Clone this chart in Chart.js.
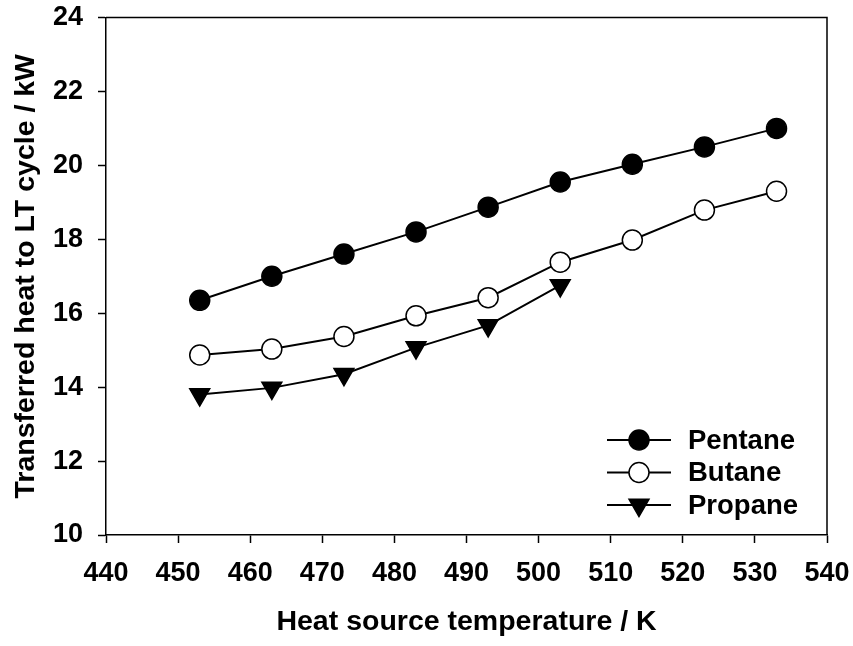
<!DOCTYPE html>
<html>
<head>
<meta charset="utf-8">
<script src="https://cdn.jsdelivr.net/npm/chart.js@4"></script>
<style>
  html, body { margin: 0; padding: 0; background: #ffffff; }
  #wrap { position: relative; width: 853px; height: 646px; }
</style>
</head>
<body>
<div id="wrap"><canvas id="c" width="853" height="646"></canvas></div>
<script>
// ---- data ----
const temperatures = [453, 463, 473, 483, 493, 503, 513, 523, 533];
const pentane = [16.35, 17.0, 17.6, 18.2, 18.87, 19.55, 20.03, 20.5, 21.0];
const butane = [14.87, 15.03, 15.37, 15.93, 16.42, 17.38, 17.98, 18.79, 19.3];
const propane = [13.8, 13.98, 14.35, 15.07, 15.67, 16.75];
const seriesNames = ['Pentane', 'Butane', 'Propane'];
const xTitle = 'Heat source temperature / K';
const yTitle = 'Transferred heat to LT cycle / kW';
const xRange = [440, 540, 10];
const yRange = [10, 24, 2];

const FONT = "'Liberation Sans', Arial, sans-serif";
const toPts = (vals) => vals.map((v, i) => ({ x: temperatures[i], y: v }));

const framePlugin = {
  id: 'frame',
  afterDatasetsDraw(chart) {
    const { ctx, chartArea: a } = chart;
    ctx.save();
    ctx.strokeStyle = '#000';
    ctx.lineWidth = 1.5;
    ctx.beginPath();
    ctx.moveTo(a.left, a.top);
    ctx.lineTo(a.right, a.top);
    ctx.lineTo(a.right, a.bottom);
    ctx.stroke();
    ctx.restore();
  }
};

function drawMarker(ctx, style, x, y, r, fill) {
  ctx.save();
  ctx.fillStyle = fill;
  ctx.strokeStyle = '#000';
  ctx.lineWidth = 1.5;
  ctx.beginPath();
  if (style === 'triangle') {
    for (let k = 0; k < 3; k++) {
      const ang = Math.PI + k * 2 * Math.PI / 3;
      const px = x + Math.sin(ang) * r;
      const py = y - Math.cos(ang) * r;
      if (k === 0) ctx.moveTo(px, py); else ctx.lineTo(px, py);
    }
    ctx.closePath();
  } else {
    ctx.arc(x, y, r, 0, Math.PI * 2);
  }
  ctx.fill();
  ctx.stroke();
  ctx.restore();
}

const legendPlugin = {
  id: 'insideLegend',
  afterDatasetsDraw(chart) {
    const { ctx, chartArea: a } = chart;
    const x0 = a.right - 220;
    const yStart = a.bottom - 95;
    const rowH = 32.5;
    chart.data.datasets.forEach((ds, i) => {
      const y = yStart + i * rowH;
      ctx.save();
      ctx.strokeStyle = '#000';
      ctx.lineWidth = 2;
      ctx.beginPath();
      ctx.moveTo(x0, y);
      ctx.lineTo(x0 + 64, y);
      ctx.stroke();
      ctx.restore();
      drawMarker(ctx, ds.pointStyle, x0 + 32, y, ds.pointStyle === 'triangle' ? 11.5 : 10, ds.pointBackgroundColor);
      ctx.save();
      ctx.fillStyle = '#000';
      ctx.font = 'bold 27.5px ' + FONT;
      ctx.textBaseline = 'middle';
      ctx.textAlign = 'left';
      ctx.fillText(ds.label, x0 + 81, y + 1);
      ctx.restore();
    });
  }
};

const common = {
  borderColor: '#000',
  borderWidth: 2,
  pointBorderColor: '#000',
  pointBorderWidth: 1.5,
  pointRadius: 10,
  pointHoverRadius: 10,
  tension: 0,
  fill: false
};

function zeroPad(s) {
  s.paddingTop = 0; s.paddingBottom = 0; s.paddingLeft = 0; s.paddingRight = 0;
}

new Chart(document.getElementById('c'), {
  type: 'line',
  data: {
    datasets: [
      Object.assign({}, common, { label: seriesNames[0], data: toPts(pentane), pointStyle: 'circle', pointBackgroundColor: '#000', backgroundColor: '#000' }),
      Object.assign({}, common, { label: seriesNames[1], data: toPts(butane), pointStyle: 'circle', pointBackgroundColor: '#fff', backgroundColor: '#fff' }),
      Object.assign({}, common, { label: seriesNames[2], data: toPts(propane), pointStyle: 'triangle', pointRotation: 180, pointRadius: 11.5, pointHoverRadius: 11.5, pointBackgroundColor: '#000', backgroundColor: '#000' })
    ]
  },
  options: {
    responsive: false,
    animation: false,
    devicePixelRatio: 1,
    layout: { padding: { left: 0, right: 26, top: 17.5, bottom: 0 } },
    plugins: { legend: { display: false }, tooltip: { enabled: false } },
    scales: {
      x: {
        type: 'linear',
        min: xRange[0], max: xRange[1],
        afterFit(s) { s.height = 111; zeroPad(s); },
        border: { display: true, color: '#000', width: 1.5 },
        grid: { display: true, drawOnChartArea: false, drawTicks: true, tickLength: 8, tickWidth: 1.5, tickColor: '#000' },
        ticks: { stepSize: xRange[2], color: '#000', padding: 14, maxRotation: 0, font: { family: FONT, size: 27, weight: 'bold' } },
        title: { display: true, text: xTitle, color: '#000', padding: { top: 0, bottom: 7 }, font: { family: FONT, size: 28.5, weight: 'bold' } }
      },
      y: {
        type: 'linear',
        min: yRange[0], max: yRange[1],
        afterFit(s) { s.width = 106; zeroPad(s); },
        border: { display: true, color: '#000', width: 1.5 },
        grid: { display: true, drawOnChartArea: false, drawTicks: true, tickLength: 8, tickWidth: 1.5, tickColor: '#000' },
        ticks: { stepSize: yRange[2], color: '#000', padding: 15, font: { family: FONT, size: 27, weight: 'bold' } },
        title: { display: true, text: yTitle, color: '#000', padding: { top: 9, bottom: 0 }, font: { family: FONT, size: 28.5, weight: 'bold' } }
      }
    }
  },
  plugins: [framePlugin, legendPlugin]
});
</script>
</body>
</html>
